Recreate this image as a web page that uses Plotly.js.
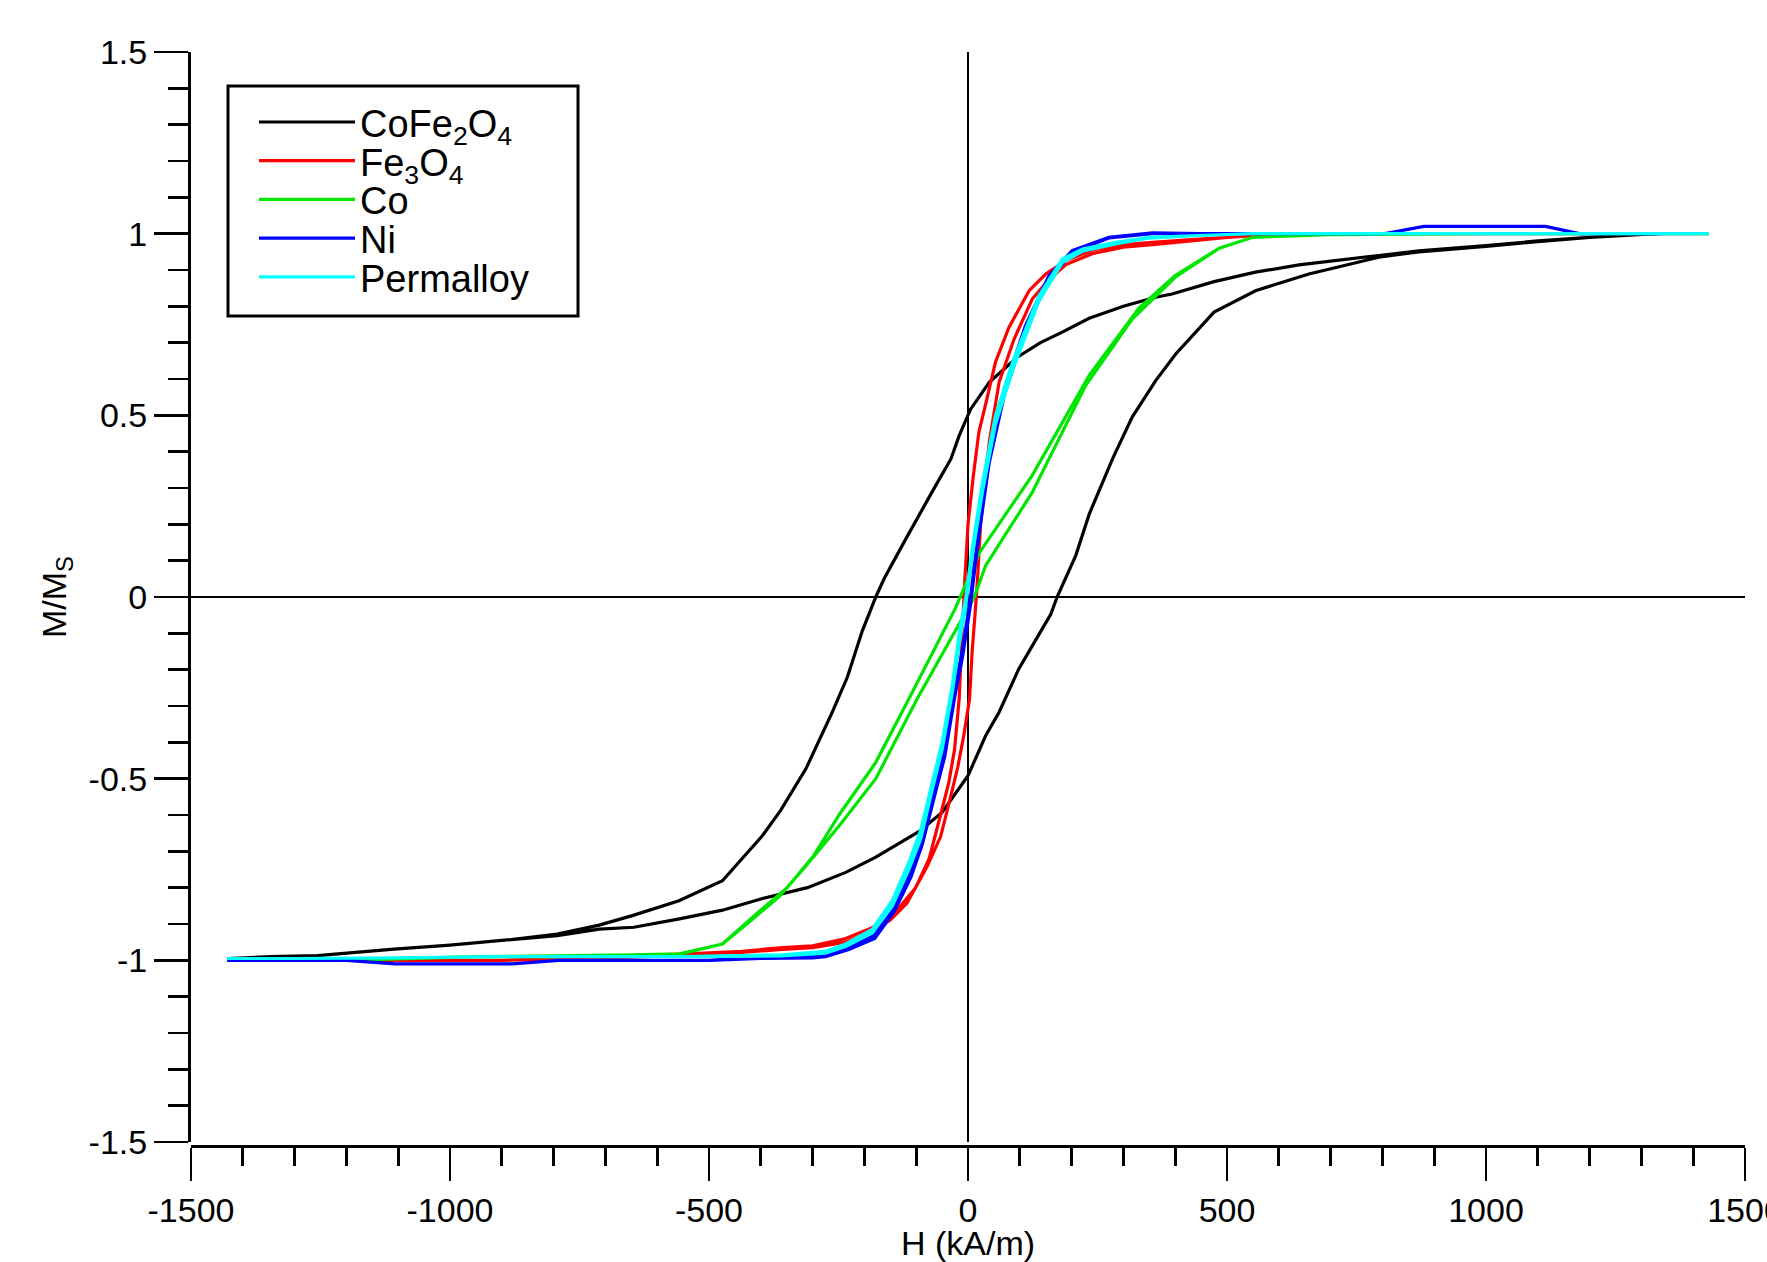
<!DOCTYPE html>
<html>
<head>
<meta charset="utf-8">
<script src="https://cdn.plot.ly/plotly-3.0.1.min.js"></script>
<style>
html, body { margin: 0; padding: 0; background: #ffffff; }
#chart { width: 1767px; height: 1262px; }
</style>
</head>
<body>
<div id="chart"></div>
<script>
// ---------------- data ----------------
// Series names
const seriesNames = ['CoFe<sub>2</sub>O<sub>4</sub>', 'Fe<sub>3</sub>O<sub>4</sub>', 'Co', 'Ni', 'Permalloy'];

// CoFe2O4 : descending branch (H from + to -), then ascending branch (H from - to +)
const cofeDescH = [1330, 1200, 1100, 1000, 870, 793, 639, 555, 475, 394, 362, 300, 234, 182, 140, 95, 41, 5, -17, -33, -69, -120, -162, -178, -204, -233, -262, -313, -362, -397, -474, -558, -648, -712, -793, -882, -1000, -1108, -1256, -1345, -1430];
const cofeDescM = [1.0, 0.99, 0.98, 0.967, 0.953, 0.94, 0.914, 0.894, 0.868, 0.834, 0.825, 0.80, 0.767, 0.729, 0.70, 0.66, 0.591, 0.517, 0.444, 0.38, 0.29, 0.16, 0.05, 0.0, -0.093, -0.221, -0.317, -0.473, -0.588, -0.657, -0.781, -0.836, -0.877, -0.903, -0.928, -0.943, -0.958, -0.969, -0.987, -0.99, -0.995];
const cofeAscH = [-1345, -1256, -1108, -1000, -882, -793, -712, -645, -557, -474, -400, -310, -236, -178, -95, -50, 0, 34, 60, 98, 130, 160, 172, 208, 234, 279, 317, 362, 401, 475, 555, 658, 793, 870, 1000, 1100, 1200, 1330];
const cofeAscM = [-0.99, -0.987, -0.969, -0.958, -0.943, -0.932, -0.914, -0.909, -0.886, -0.862, -0.831, -0.80, -0.758, -0.716, -0.646, -0.593, -0.492, -0.382, -0.317, -0.198, -0.12, -0.047, 0.0, 0.114, 0.228, 0.38, 0.495, 0.595, 0.669, 0.784, 0.843, 0.889, 0.935, 0.95, 0.965, 0.978, 0.99, 1.0];

// Fe3O4
const fe3o4DescH = [1430, 1200, 1000, 800, 650, 560, 500, 446, 356, 300, 240, 189, 150, 118, 79, 53, 34, 21, 10, 0, -6, -12, -17, -26, -37, -53, -75, -101, -146, -185, -236, -300, -358, -436, -552, -700, -900, -1100, -1300, -1430];
const fe3o4DescM = [1.0, 1.0, 1.0, 1.0, 1.0, 0.995, 0.99, 0.985, 0.976, 0.97, 0.955, 0.926, 0.889, 0.843, 0.742, 0.646, 0.53, 0.454, 0.33, 0.2, 0.05, -0.12, -0.28, -0.42, -0.51, -0.6, -0.72, -0.8, -0.877, -0.91, -0.94, -0.96, -0.965, -0.975, -0.983, -0.99, -1.0, -1.0, -1.0, -1.0];
const fe3o4AscH = [-1300, -1100, -900, -700, -552, -436, -358, -300, -236, -185, -150, -118, -79, -53, -37, -20, -8, 3, 8, 14, 18, 24, 41, 60, 89, 124, 154, 189, 240, 300, 356, 446, 500, 560, 650, 800, 1000, 1200, 1430];
const fe3o4AscM = [-1.0, -1.0, -1.0, -0.995, -0.985, -0.978, -0.97, -0.965, -0.95, -0.92, -0.889, -0.843, -0.742, -0.66, -0.57, -0.47, -0.38, -0.28, -0.15, -0.04, 0.04, 0.196, 0.426, 0.591, 0.71, 0.82, 0.87, 0.915, 0.945, 0.963, 0.97, 0.982, 0.99, 0.995, 1.0, 1.0, 1.0, 1.0, 1.0];

// Co
const coDescH = [1430, 1200, 1000, 850, 700, 550, 485, 400, 330, 234, 124, 21, -24, -114, -178, -249, -297, -349, -407, -474, -557, -650, -800, -950, -1200, -1430];
const coDescM = [1.0, 1.0, 1.0, 0.999, 0.997, 0.99, 0.96, 0.885, 0.795, 0.61, 0.335, 0.12, -0.03, -0.28, -0.455, -0.6, -0.71, -0.80, -0.87, -0.955, -0.982, -0.985, -0.988, -0.99, -1.0, -1.0];
const coAscH = [-1200, -950, -800, -650, -557, -474, -423, -365, -313, -249, -178, -98, 12, 34, 124, 227, 317, 400, 485, 550, 700, 850, 1000, 1200, 1430];
const coAscM = [-1.0, -0.99, -0.99, -0.985, -0.983, -0.955, -0.895, -0.825, -0.74, -0.63, -0.5, -0.28, 0.0, 0.086, 0.288, 0.582, 0.765, 0.88, 0.96, 0.99, 0.997, 1.0, 1.0, 1.0, 1.0];

// Ni
const niDescH = [1340, 1250, 1180, 1115, 1000, 880, 805, 700, 600, 450, 356, 272, 201, 156, 111, 70, 41, 20, 5, -10, -25, -45, -65, -88, -110, -142, -180, -230, -275, -300, -400, -500, -700, -790, -880, -1000, -1106, -1200, -1430];
const niDescM = [1.0, 1.0, 1.0, 1.02, 1.02, 1.02, 1.0, 1.0, 1.0, 1.0, 1.002, 0.99, 0.953, 0.884, 0.747, 0.573, 0.389, 0.18, 0.0, -0.14, -0.25, -0.42, -0.53, -0.66, -0.75, -0.855, -0.93, -0.965, -0.985, -0.99, -0.99, -1.0, -1.0, -1.0, -1.01, -1.01, -1.01, -1.0, -1.0];
const niAscH = [-1200, -1106, -1000, -880, -790, -700, -500, -400, -300, -275, -230, -180, -142, -110, -88, -65, -45, -25, -10, 5, 20, 41, 70, 111, 156, 201, 272, 356, 450, 600, 700, 805, 880, 1000, 1115, 1180, 1250, 1340];
const niAscM = [-1.0, -1.01, -1.01, -1.01, -1.0, -1.0, -1.0, -0.995, -0.993, -0.99, -0.97, -0.94, -0.865, -0.77, -0.68, -0.55, -0.44, -0.27, -0.16, -0.02, 0.16, 0.37, 0.555, 0.735, 0.875, 0.948, 0.988, 1.0, 1.0, 1.0, 1.0, 1.0, 1.02, 1.02, 1.02, 1.0, 1.0, 1.0];

// Permalloy
const pyDescH = [1430, 1300, 1100, 900, 700, 550, 446, 350, 285, 221, 182, 137, 86, 53, 28, 8, -4, -17, -30, -50, -69, -91, -114, -146, -185, -236, -275, -358, -552, -712, -900, -1100, -1300, -1430];
const pyDescM = [1.0, 1.0, 1.0, 1.0, 1.0, 1.0, 0.995, 0.99, 0.976, 0.958, 0.93, 0.829, 0.646, 0.499, 0.316, 0.132, 0.0, -0.1, -0.24, -0.4, -0.51, -0.64, -0.73, -0.835, -0.915, -0.955, -0.975, -0.985, -0.99, -0.99, -0.99, -0.993, -0.995, -0.995];
const pyAscH = [-1300, -1100, -900, -712, -552, -358, -275, -236, -185, -146, -114, -91, -69, -50, -30, -17, -4, 8, 28, 53, 86, 137, 182, 221, 285, 350, 446, 550, 700, 900, 1100, 1300, 1430];
const pyAscM = [-0.995, -0.993, -0.99, -0.99, -0.99, -0.988, -0.98, -0.962, -0.925, -0.85, -0.75, -0.665, -0.53, -0.42, -0.26, -0.13, -0.02, 0.11, 0.29, 0.475, 0.625, 0.815, 0.92, 0.952, 0.972, 0.988, 0.995, 1.0, 1.0, 1.0, 1.0, 1.0, 1.0];

// Tick labels
const xTickVals = [-1500, -1000, -500, 0, 500, 1000, 1500];
const xTickText = ['-1500', '-1000', '-500', '0', '500', '1000', '1500'];
const yTickVals = [-1.5, -1, -0.5, 0, 0.5, 1, 1.5];
const yTickText = ['-1.5', '-1', '-0.5', '0', '0.5', '1', '1.5'];

// ---------------- drawing ----------------
const W = 1767, H = 1262;
const M = { l: 189, r: 22, t: 52, b: 116 };
const PW = W - M.l - M.r, PH = H - M.t - M.b;
const px2x = p => (p - M.l) / PW;
const py2y = p => 1 - (p - M.t) / PH;

const FONT = 'Liberation Sans, Arial, Helvetica, sans-serif';
const colors = ['#000000', '#ff0000', '#00e600', '#0000ff', '#00ffff'];
const seriesX = [
  cofeDescH.concat(cofeAscH), fe3o4DescH.concat(fe3o4AscH), coDescH.concat(coAscH),
  niDescH.concat(niAscH), pyDescH.concat(pyAscH)
];
const seriesY = [
  cofeDescM.concat(cofeAscM), fe3o4DescM.concat(fe3o4AscM), coDescM.concat(coAscM),
  niDescM.concat(niAscM), pyDescM.concat(pyAscM)
];

const legendKeys = ['legend', 'legend2', 'legend3', 'legend4', 'legend5'];
const traces = seriesNames.map((name, i) => ({
  type: 'scatter', mode: 'lines', name: name,
  x: seriesX[i], y: seriesY[i],
  line: { color: colors[i], width: 3.2, simplify: false },
  legend: legendKeys[i], hoverinfo: 'skip'
}));

const legendRowPx = 122.3, legendRowGap = 38.7, legendLeftPx = 254;
const layout = {
  width: W, height: H,
  margin: { l: M.l, r: M.r, t: M.t, b: M.b, pad: 0 },
  paper_bgcolor: '#ffffff', plot_bgcolor: '#ffffff',
  font: { family: FONT, size: 34, color: '#000000' },
  showlegend: true,
  xaxis: {
    domain: [2 / PW, 1], range: [-1500, 1500], anchor: 'free', position: 0,
    showline: true, linecolor: '#000', linewidth: 3.3,
    showgrid: false, zeroline: true, zerolinecolor: '#000', zerolinewidth: 2.7,
    tickmode: 'array', tickvals: xTickVals, ticktext: xTickText,
    ticks: 'outside', ticklen: 33, tickwidth: 2.7, tickcolor: '#000',
    minor: { tickmode: 'linear', tick0: -1500, dtick: 100, ticks: 'outside', ticklen: 18, tickwidth: 2.7, tickcolor: '#000', showgrid: false },
    tickfont: { family: FONT, size: 34, color: '#000' },
    ticklabeloverflow: 'allow', automargin: false, fixedrange: true,
    title: { text: 'H (kA/m)', font: { family: FONT, size: 34, color: '#000' } }
  },
  yaxis: {
    domain: [4 / PH, 1], range: [-1.5, 1.5], anchor: 'free', position: 0,
    showline: true, linecolor: '#000', linewidth: 3.3,
    showgrid: false, zeroline: true, zerolinecolor: '#000', zerolinewidth: 2.7,
    tickmode: 'array', tickvals: yTickVals, ticktext: yTickText,
    ticks: 'outside', ticklen: 34, tickwidth: 2.7, tickcolor: '#000',
    minor: { tickmode: 'linear', tick0: -1.5, dtick: 0.1, ticks: 'outside', ticklen: 20, tickwidth: 2.7, tickcolor: '#000', showgrid: false },
    tickfont: { family: FONT, size: 34, color: '#000' },
    ticklabeloverflow: 'allow', automargin: true, fixedrange: true,
    title: { text: 'M/M<sub>S</sub>', font: { family: FONT, size: 34, color: '#000' }, standoff: 10 }
  },
  shapes: [{
    type: 'rect', xref: 'paper', yref: 'paper',
    x0: px2x(228), x1: px2x(578), y0: py2y(316), y1: py2y(86),
    line: { color: '#000', width: 3 }, fillcolor: 'rgba(0,0,0,0)', layer: 'above'
  }]
};
legendKeys.forEach((k, i) => {
  layout[k] = {
    x: px2x(legendLeftPx), xanchor: 'left',
    y: py2y(legendRowPx + i * legendRowGap), yanchor: 'middle',
    bgcolor: 'rgba(0,0,0,0)', borderwidth: 0,
    font: { family: FONT, size: 38, color: '#000' },
    itemwidth: 96, orientation: 'v', tracegroupgap: 0
  };
});

Plotly.newPlot('chart', traces, layout, { staticPlot: true, displayModeBar: false });
</script>
</body>
</html>
